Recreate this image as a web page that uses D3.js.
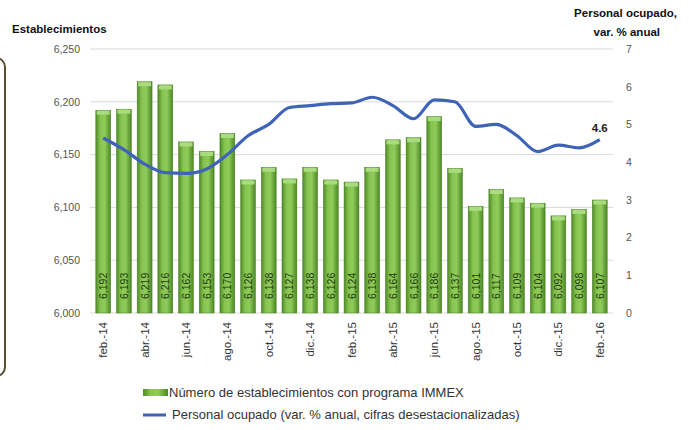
<!DOCTYPE html>
<html>
<head>
<meta charset="utf-8">
<script src="https://cdn.jsdelivr.net/npm/d3@7"></script>
<style>
  body { margin: 0; background: #fff; }
  text { font-family: "Liberation Sans", Arial, sans-serif; }
</style>
</head>
<body>
<script>
// data
const months = ["feb.-14","mar.-14","abr.-14","may.-14","jun.-14","jul.-14","ago.-14","sep.-14","oct.-14","nov.-14","dic.-14","ene.-15",
  "feb.-15","mar.-15","abr.-15","may.-15","jun.-15","jul.-15","ago.-15","sep.-15","oct.-15","nov.-15","dic.-15","ene.-16","feb.-16"];
const establecimientos = [6192,6193,6219,6216,6162,6153,6170,6126,6138,6127,6138,6126,
  6124,6138,6164,6166,6186,6137,6101,6117,6109,6104,6092,6098,6107];
const personal = [4.64,4.33,3.95,3.72,3.70,3.82,4.2,4.7,5.0,5.45,5.5,5.55,
  5.57,5.72,5.5,5.15,5.65,5.6,4.95,5.0,4.7,4.28,4.45,4.38,4.6];
const leftTicks = [6000,6050,6100,6150,6200,6250];
const rightTicks = [0,1,2,3,4,5,6,7];

const width = 689, height = 430;
const plot = {left: 90, right: 613, top: 49, bottom: 313};
const fmt = d3.format(",");

const svg = d3.select("body").append("svg")
  .attr("width", width).attr("height", height);

const defs = svg.append("defs");
const grad = defs.append("linearGradient").attr("id", "barGrad")
  .attr("x1", "0%").attr("x2", "100%").attr("y1", "0%").attr("y2", "0%");
grad.append("stop").attr("offset", "0%").attr("stop-color", "#4f8a26");
grad.append("stop").attr("offset", "30%").attr("stop-color", "#86c451");
grad.append("stop").attr("offset", "60%").attr("stop-color", "#8fcc5a");
grad.append("stop").attr("offset", "100%").attr("stop-color", "#4c8624");

// left frame piece
svg.append("rect")
  .attr("x", -20).attr("y", 58).attr("width", 25).attr("height", 318)
  .attr("rx", 9)
  .attr("fill", "none").attr("stroke", "#585033").attr("stroke-width", 2);

const x = d3.scaleBand().domain(months).range([plot.left, plot.right]).padding(0.28);
const yL = d3.scaleLinear().domain([6000, 6250]).range([plot.bottom, plot.top]);
const yR = d3.scaleLinear().domain([0, 7]).range([plot.bottom, plot.top]);

// gridlines
svg.append("g").selectAll("line").data(leftTicks).join("line")
  .attr("x1", plot.left).attr("x2", plot.right)
  .attr("y1", d => yL(d)).attr("y2", d => yL(d))
  .attr("stroke", "#d9d9d9").attr("stroke-width", 1);

// axes
const axL = svg.append("g").attr("transform", `translate(${plot.left},0)`)
  .call(d3.axisLeft(yL).tickValues(leftTicks).tickFormat(fmt).tickSize(0).tickPadding(10));
axL.select(".domain").remove();
axL.selectAll("text").attr("font-size", 10.5).attr("fill", "#555");

const axR = svg.append("g").attr("transform", `translate(${plot.right},0)`)
  .call(d3.axisRight(yR).tickValues(rightTicks).tickFormat(d3.format("d")).tickSize(0).tickPadding(13));
axR.select(".domain").remove();
axR.selectAll("text").attr("font-size", 10.5).attr("fill", "#555");

// bars
const bars = svg.append("g").selectAll("g").data(establecimientos).join("g");
bars.append("rect")
  .attr("x", (d, i) => x(months[i]))
  .attr("y", d => yL(d))
  .attr("width", x.bandwidth())
  .attr("height", d => yL(6000) - yL(d))
  .attr("fill", "url(#barGrad)")
  .attr("stroke", "#4a8022").attr("stroke-width", 0.5);
bars.append("rect")
  .attr("x", (d, i) => x(months[i]) + 1)
  .attr("y", d => yL(d) + 0.5)
  .attr("width", x.bandwidth() - 2)
  .attr("height", 4)
  .attr("fill", "#a9dc7e");
bars.append("text")
  .attr("transform", (d, i) => `translate(${x(months[i]) + x.bandwidth() / 2 + 4},${plot.bottom - 14}) rotate(-90)`)
  .attr("font-size", 10.5).attr("fill", "#1f3a10")
  .text(d => fmt(d));

// x labels
const axX = svg.append("g").attr("transform", `translate(0,${plot.bottom})`)
  .call(d3.axisBottom(x).tickValues(months.filter((d, i) => i % 2 === 0)).tickSize(0));
axX.select(".domain").remove();
axX.selectAll("text")
  .attr("transform", "rotate(-90)")
  .attr("text-anchor", "end")
  .attr("x", -9).attr("y", 0).attr("dy", "0.35em")
  .attr("font-size", 11.5).attr("fill", "#333");

// line
const line = d3.line()
  .x((d, i) => x(months[i]) + x.bandwidth() / 2)
  .y(d => yR(d))
  .curve(d3.curveMonotoneX);
svg.append("path").datum(personal)
  .attr("d", line)
  .attr("fill", "none").attr("stroke", "#3e63b8").attr("stroke-width", 3.2)
  .attr("stroke-linejoin", "round");

const last = personal.length - 1;
svg.append("text")
  .attr("x", x(months[last]) + x.bandwidth() / 2)
  .attr("y", yR(personal[last]) - 8)
  .attr("text-anchor", "middle")
  .attr("font-size", 11.5).attr("font-weight", "bold").attr("fill", "#222")
  .text(d3.format(".1f")(personal[last]));

// axis titles
svg.append("text").attr("x", 12).attr("y", 33)
  .attr("font-size", 11.5).attr("font-weight", "bold").attr("fill", "#111")
  .text("Establecimientos");
svg.append("text").attr("x", 677).attr("y", 17).attr("text-anchor", "end")
  .attr("font-size", 11.5).attr("font-weight", "bold").attr("fill", "#111")
  .text("Personal ocupado,");
svg.append("text").attr("x", 660).attr("y", 36).attr("text-anchor", "end")
  .attr("font-size", 11.5).attr("font-weight", "bold").attr("fill", "#111")
  .text("var. % anual");

// legend
const leg = svg.append("g");
leg.append("rect").attr("x", 143).attr("y", 389).attr("width", 25).attr("height", 7)
  .attr("fill", "url(#barGrad)");
leg.append("text").attr("x", 169).attr("y", 397)
  .attr("font-size", 13).attr("fill", "#333")
  .text("Número de establecimientos con programa IMMEX");
leg.append("line").attr("x1", 143).attr("x2", 166).attr("y1", 415).attr("y2", 415)
  .attr("stroke", "#3e63b8").attr("stroke-width", 3);
leg.append("text").attr("x", 172).attr("y", 419)
  .attr("font-size", 13).attr("fill", "#333")
  .text("Personal ocupado (var. % anual, cifras desestacionalizadas)");
</script>
</body>
</html>
